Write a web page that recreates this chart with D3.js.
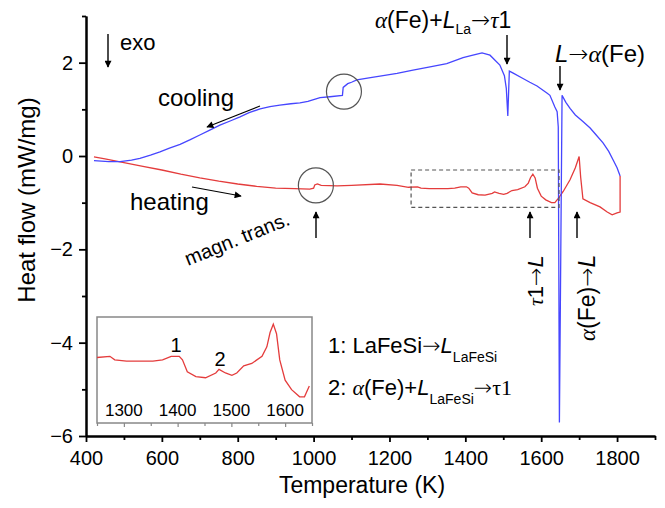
<!DOCTYPE html>
<html>
<head>
<meta charset="utf-8">
<script src="https://cdn.jsdelivr.net/npm/d3@7"></script>
<style>
  body { margin: 0; background: #fff; }
  svg { display: block; font-family: "Liberation Sans", Arial, sans-serif; }
</style>
</head>
<body>
<div id="chart"></div>
<script>
// DSC traces (T in K, heat flow in mW/mg)
const coolingT = [421, 460, 490, 520, 542, 570, 595, 620, 648, 675, 700, 725, 753, 780, 806, 830, 859, 885, 911, 940,
  964, 985, 1000, 1017, 1043, 1076, 1078, 1090, 1100, 1114, 1150, 1175, 1220, 1262, 1307, 1351, 1394, 1420, 1444, 1465,
  1491, 1503, 1508, 1512, 1516, 1525, 1552, 1570, 1589, 1615, 1623, 1636, 1642, 1645, 1648, 1655, 1665, 1676, 1690, 1710,
  1729, 1745, 1763, 1778, 1790, 1800, 1808];
const coolingHF = [-0.10, -0.12, -0.12, -0.09, -0.05, 0.02, 0.09, 0.17, 0.25, 0.35, 0.45, 0.55, 0.66, 0.75, 0.84, 0.93, 1.01, 1.06, 1.09, 1.12,
  1.14, 1.17, 1.21, 1.25, 1.27, 1.30, 1.47, 1.55, 1.58, 1.63, 1.68, 1.71, 1.77, 1.84, 1.91, 1.98, 2.11, 2.16, 2.21, 2.16,
  1.95, 1.72, 1.45, 0.86, 1.82, 1.78, 1.66, 1.58, 1.50, 1.35, 1.30, 1.05, 0.95, 0.62, -5.71, 1.30, 1.15, 1.02, 0.88, 0.74,
  0.60, 0.45, 0.28, 0.10, -0.09, -0.25, -0.43];

const heatingT = [421, 450, 500, 550, 600, 650, 700, 750, 800, 850, 900, 950, 990, 1000, 1003, 1010, 1020, 1062, 1100, 1175,
  1220, 1250, 1274, 1283, 1305, 1330, 1354, 1372, 1388, 1403, 1409, 1418, 1434, 1452, 1471, 1477, 1489, 1501, 1510, 1523,
  1538, 1557, 1566, 1572, 1578, 1584, 1590, 1600, 1612, 1627, 1636, 1645, 1658, 1676, 1690, 1700, 1704, 1710, 1729, 1755,
  1774, 1787, 1800, 1808, 1808];
const heatingHF = [-0.02, -0.06, -0.14, -0.22, -0.30, -0.39, -0.47, -0.54, -0.60, -0.65, -0.69, -0.70, -0.71, -0.69, -0.62, -0.60, -0.63, -0.64, -0.63, -0.60,
  -0.63, -0.67, -0.66, -0.69, -0.70, -0.70, -0.70, -0.69, -0.66, -0.66, -0.69, -0.79, -0.83, -0.84, -0.80, -0.77, -0.80, -0.82, -0.80, -0.74,
  -0.72, -0.66, -0.58, -0.46, -0.39, -0.47, -0.69, -0.86, -0.94, -1.00, -1.00, -0.91, -0.76, -0.51, -0.25, -0.01, -0.45, -0.92, -1.00, -1.09,
  -1.20, -1.26, -1.22, -1.20, -0.43];

const xTicks = [400, 600, 800, 1000, 1200, 1400, 1600, 1800];
const xMinor = [500, 700, 900, 1100, 1300, 1500, 1700, 1900];
const yTicks = [-6, -4, -2, 0, 2];
const yMinor = [-5, -3, -1, 1, 3];
const insetTicks = [1300, 1400, 1500, 1600];
const insetMinor = [1250, 1350, 1450, 1550, 1650];

// circled events [T, heat flow] and the zoomed window [T0, T1, hf top, hf bottom]
const circledT = [1080, 1006];
const circledHF = [1.38, -0.63];
const zoomBox = [1257, 1647, -0.30, -1.10];

const blue = "#4646ff", red = "#e43c3c";
const ARROW_FONT = "DejaVu Sans, sans-serif";
const SERIF = "Liberation Serif, Times New Roman, serif";

const W = 665, H = 508;
const svg = d3.select("#chart").append("svg").attr("width", W).attr("height", H);

const x = d3.scaleLinear().domain([400, 1900]).range([86, 655]);
const y = d3.scaleLinear().domain([-6, 3]).range([436, 16]);

const cooling = coolingT.map((t, i) => [t, coolingHF[i]]);
const heating = heatingT.map((t, i) => [t, heatingHF[i]]);

// axes
svg.append("g").attr("transform", `translate(0,${y(-6)})`)
  .call(d3.axisBottom(x).tickValues(xTicks).tickFormat(d3.format("d")).tickSize(6).tickPadding(9).tickSizeOuter(0));
svg.append("g").attr("transform", `translate(0,${y(-6)})`)
  .call(d3.axisBottom(x).tickValues(xMinor).tickSize(4).tickFormat("").tickSizeOuter(0));
svg.append("g").attr("transform", `translate(${x(400)},0)`)
  .call(d3.axisLeft(y).tickValues(yTicks).tickFormat(d3.format("d")).tickSize(7).tickPadding(6).tickSizeOuter(0));
svg.append("g").attr("transform", `translate(${x(400)},0)`)
  .call(d3.axisLeft(y).tickValues(yMinor).tickSize(4).tickFormat("").tickSizeOuter(0));

svg.selectAll(".domain").attr("stroke", "#000").attr("stroke-width", 2);
svg.selectAll(".tick line").attr("stroke", "#000").attr("stroke-width", 1.8);
svg.selectAll(".tick text").attr("font-size", 20).attr("font-family", "Liberation Sans, Arial, sans-serif").attr("fill", "#000");

svg.append("text").attr("x", 362).attr("y", 493).attr("text-anchor", "middle")
  .attr("font-size", 23).text("Temperature (K)");
svg.append("text").attr("transform", "translate(35,200) rotate(-90)").attr("text-anchor", "middle")
  .attr("font-size", 24).text("Heat flow (mW/mg)");

// curves
const line = d3.line().x(d => x(d[0])).y(d => y(d[1]));
svg.append("path").datum(heating).attr("d", line).attr("fill", "none").attr("stroke", red).attr("stroke-width", 1.3);
svg.append("path").datum(cooling).attr("d", line).attr("fill", "none").attr("stroke", blue).attr("stroke-width", 1.3);

// circles and dashed window
svg.selectAll("circle.mark").data(circledT).enter().append("circle")
  .attr("cx", d => x(d)).attr("cy", (d, i) => y(circledHF[i])).attr("r", 17.5)
  .attr("fill", "none").attr("stroke", "#555").attr("stroke-width", 1.2);
svg.append("rect")
  .attr("x", x(zoomBox[0])).attr("y", y(zoomBox[2]))
  .attr("width", x(zoomBox[1]) - x(zoomBox[0])).attr("height", y(zoomBox[3]) - y(zoomBox[2]))
  .attr("fill", "none").attr("stroke", "#555").attr("stroke-width", 1.2).attr("stroke-dasharray", "4,3");

// arrows
const defs = svg.append("defs");
defs.append("marker").attr("id", "head").attr("viewBox", "0 0 10 10").attr("refX", 9).attr("refY", 5)
  .attr("markerWidth", 9).attr("markerHeight", 7).attr("markerUnits", "userSpaceOnUse").attr("orient", "auto")
  .append("path").attr("d", "M0,0 L10,5 L0,10 z").attr("fill", "#000");
const arrow = (x1, y1, x2, y2, w) => svg.append("line")
  .attr("x1", x1).attr("y1", y1).attr("x2", x2).attr("y2", y2)
  .attr("stroke", "#000").attr("stroke-width", w || 1.4).attr("marker-end", "url(#head)");

arrow(108, 34, 108, 67);
arrow(260, 106, 207, 127, 1.1);
arrow(192, 187, 241, 196, 1.1);
arrow(316, 238, 316, 212);
arrow(507, 35, 507, 64);
arrow(560, 66, 560, 90);
arrow(530, 238, 530, 212);
arrow(577, 238, 577, 212);

const txt = (xx, yy, size, s) => svg.append("text").attr("x", xx).attr("y", yy).attr("font-size", size).text(s);
txt(120, 50, 22, "exo");
txt(158, 106, 24, "cooling");
txt(130, 210, 24, "heating");
svg.append("text").attr("transform", "translate(188,266) rotate(-22)").attr("font-size", 20).text("magn. trans.");

const serifIt = t => t.append("tspan").attr("font-family", SERIF).attr("font-style", "italic");
const arrowSpan = t => t.append("tspan").attr("font-family", ARROW_FONT).attr("font-weight", 200).text("→");

// α(Fe)+L_La→τ1
let t1 = svg.append("text").attr("x", 375).attr("y", 28).attr("font-size", 23);
serifIt(t1).text("α");
t1.append("tspan").text("(Fe)+");
t1.append("tspan").attr("font-style", "italic").text("L");
t1.append("tspan").attr("font-size", 14).attr("dy", 6).text("La");
arrowSpan(t1).attr("dy", -6);
serifIt(t1).text("τ");
t1.append("tspan").text("1");

// L→α(Fe)
let t2 = svg.append("text").attr("x", 555).attr("y", 62).attr("font-size", 24);
t2.append("tspan").attr("font-style", "italic").text("L");
arrowSpan(t2);
serifIt(t2).text("α");
t2.append("tspan").text("(Fe)");

// rotated labels
let t3 = svg.append("text").attr("transform", "translate(543,306) rotate(-90)").attr("font-size", 22);
serifIt(t3).text("τ");
t3.append("tspan").text("1");
arrowSpan(t3);
t3.append("tspan").attr("font-style", "italic").text("L");
let t4 = svg.append("text").attr("transform", "translate(595,341) rotate(-90)").attr("font-size", 23);
serifIt(t4).text("α");
t4.append("tspan").text("(Fe)");
arrowSpan(t4);
t4.append("tspan").attr("font-style", "italic").text("L");

// legend of inset events
let l1 = svg.append("text").attr("x", 328).attr("y", 353).attr("font-size", 22);
l1.append("tspan").text("1: LaFeSi");
arrowSpan(l1);
l1.append("tspan").attr("font-style", "italic").text("L");
l1.append("tspan").attr("font-size", 14).attr("dy", 9).text("LaFeSi");
let l2 = svg.append("text").attr("x", 328).attr("y", 395).attr("font-size", 22);
l2.append("tspan").text("2: ");
serifIt(l2).text("α");
l2.append("tspan").text("(Fe)+");
l2.append("tspan").attr("font-style", "italic").text("L");
l2.append("tspan").attr("font-size", 14).attr("dy", 9).text("LaFeSi");
arrowSpan(l2).attr("dy", -9);
l2.append("tspan").attr("font-family", SERIF).text("τ1");

// inset: zoom of the heating trace
const xi = d3.scaleLinear().domain([1250, 1650]).range([97, 312]);
const yi = d3.scaleLinear().domain([-1.22, -0.33]).range([423, 317]);
const inset = svg.append("g");
inset.append("rect").attr("x", 97).attr("y", 317).attr("width", 215).attr("height", 106)
  .attr("fill", "#fff").attr("stroke", "#888").attr("stroke-width", 1.5);
inset.append("g").attr("transform", "translate(0,423)")
  .call(d3.axisBottom(xi).tickValues(insetTicks).tickSize(4).tickFormat("").tickSizeOuter(0));
inset.append("g").attr("transform", "translate(0,423)")
  .call(d3.axisBottom(xi).tickValues(insetMinor).tickSize(3).tickFormat("").tickSizeOuter(0));
inset.selectAll(".domain").remove();
inset.selectAll(".tick line").attr("stroke", "#888").attr("stroke-width", 1.2);
inset.selectAll("text.il").data(insetTicks).enter().append("text").attr("class", "il")
  .attr("x", d => xi(d)).attr("y", 416).attr("text-anchor", "middle").attr("font-size", 17).text(d => d);
const lineI = d3.line().x(d => xi(d[0])).y(d => yi(d[1]));
inset.append("path").datum(heating.filter(d => d[0] >= 1250 && d[0] <= 1650)).attr("d", lineI)
  .attr("fill", "none").attr("stroke", red).attr("stroke-width", 1.3);
txt(176, 352, 20, "1").attr("text-anchor", "middle");
txt(220, 366, 20, "2").attr("text-anchor", "middle");
</script>
</body>
</html>
